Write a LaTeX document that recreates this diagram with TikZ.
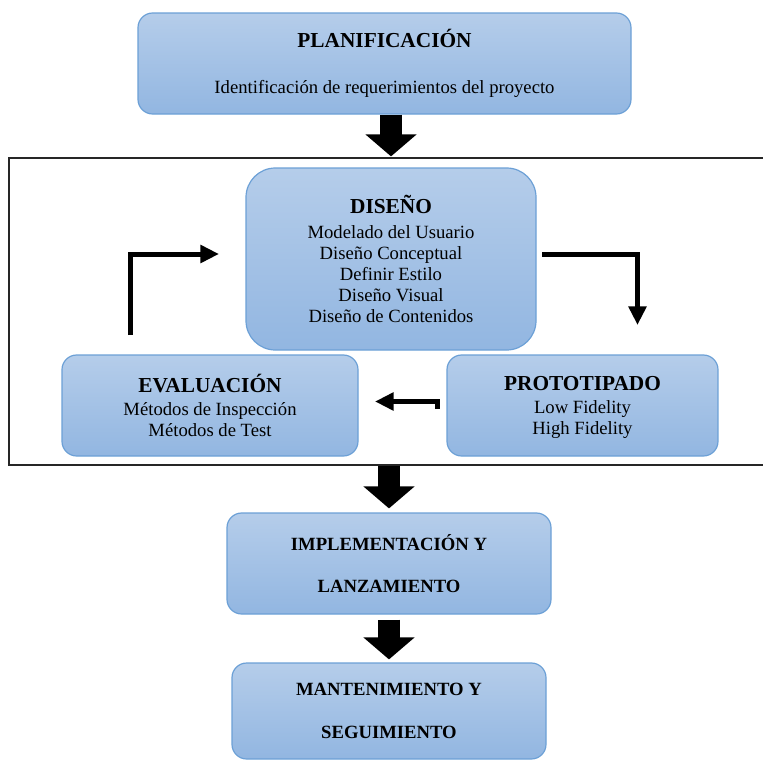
\documentclass[tikz,border=0pt]{standalone}
\usepackage{fontspec}
\setmainfont{Liberation Serif}
\usepackage{xcolor}
\usetikzlibrary{positioning, arrows.meta}

\definecolor{phasetop}{HTML}{B5CDEA}
\definecolor{phasebottom}{HTML}{92B6E1}
\definecolor{phaseline}{HTML}{6CA0D6}

\newcommand{\phasetitle}[1]{{\fontsize{16pt}{19pt}\selectfont\bfseries\vphantom{Ó}#1}}

\begin{document}
\begin{tikzpicture}[
            x=0.75pt, y=0.75pt,
            phase/.style={draw=phaseline, line width=0.9pt, top color=phasetop, bottom color=phasebottom,
                rounded corners=11pt, align=center, inner sep=0pt,
                font=\fontsize{14pt}{15.75pt}\selectfont},
            blockarrow/.style={line width=17pt, -{Triangle[length=16.5pt, width=37.5pt]}},
            flow/.style={line width=3.75pt, -{Triangle[length=14pt, width=13pt]}},
        ]
            \clip (0,0) rectangle (763,-760);
            \useasboundingbox (0,0) rectangle (763,-760);

            % frame round the design cycle
            \node[draw=black!85, line width=1.1pt, minimum width=566.25pt, minimum height=230.25pt, inner sep=0pt]
                (cycle) at (386.5,-311.5) {};

            \node[phase, minimum width=369.75pt, minimum height=75.75pt] (plan) at (384.5,-63.5)
                {\phasetitle{PLANIFICACIÓN}\\[18.5pt] Identificación de requerimientos del proyecto};
            \node[phase, rounded corners=22pt, minimum width=217.5pt, minimum height=136.5pt] (dis) at (391,-259)
                {\phasetitle{DISEÑO}\\[2.5pt] Modelado del Usuario\\ Diseño Conceptual\\ Definir Estilo\\
                 Diseño Visual\\ Diseño de Contenidos};
            \node[phase, minimum width=222pt, minimum height=75.75pt] (eval) at (210,-405.5)
                {\phasetitle{EVALUACIÓN}\\[1pt] Métodos de Inspección\\ Métodos de Test};
            \node[phase, minimum width=203.25pt, minimum height=75.75pt] (proto) at (582.5,-405.5)
                {\phasetitle{PROTOTIPADO}\\[1.5pt] Low Fidelity\\ High Fidelity};
            \node[phase, minimum width=243pt, minimum height=75.75pt, font=\fontsize{14pt}{15.75pt}\selectfont\bfseries]
                (impl) at (389,-563.5) {IMPLEMENTACIÓN Y\\[16pt] LANZAMIENTO};
            \node[phase, minimum width=235.5pt, minimum height=72pt, font=\fontsize{14pt}{15.75pt}\selectfont\bfseries]
                (mant) at (389,-711) {MANTENIMIENTO Y\\[16pt] SEGUIMIENTO};

            % block arrows between phases
            \draw[blockarrow, shorten >=8.25pt] (plan.south -| dis.north) -- (dis.north);
            \draw[blockarrow, shorten >=3pt] (cycle.south -| impl.north) -- (impl.north);
            \draw[blockarrow, shorten <=3.75pt, shorten >=2.25pt] (impl.south) -- (mant.north);

            % arrows of the cycle
            \coordinate (evtail) at (130,-335);
            \coordinate (dishead) at (219,-254);
            \coordinate (distail) at (542,-254);
            \coordinate (prhead) at (637.5,-325);
            \coordinate (prtail) at (437.5,-409);
            \coordinate (evhead) at (375,-401.5);
            \draw[flow] (evtail) |- (dishead);
            \draw[flow] (distail) -| (prhead);
            \draw[flow] (prtail) |- (evhead);
        \end{tikzpicture}
\end{document}
